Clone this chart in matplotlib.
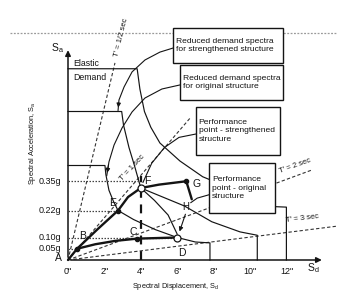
import matplotlib
matplotlib.use("Agg")
import matplotlib.pyplot as plt
from matplotlib.patches import Rectangle

plt.rcParams['font.family'] = ['Liberation Sans Narrow', 'Liberation Sans', 'DejaVu Sans']

# ---- data (spectral displacement in inches, spectral acceleration in g) ----
# demand spectra
elastic_sd = [0, 3.8, 3.95, 4.2, 4.55, 5.05, 6.15, 7.4, 8.9, 10.55, 11.4, 12.0, 12.0]
elastic_sa = [0.85, 0.85, 0.76, 0.66, 0.59, 0.52, 0.44, 0.37, 0.32, 0.26, 0.237, 0.235, 0]

str_dem_sd = [0, 2.95, 3.05, 3.35, 3.65, 4.0, 5.2, 6.4, 7.9, 9.45, 10.4, 10.4]
str_dem_sa = [0.66, 0.66, 0.60, 0.50, 0.42, 0.32, 0.28, 0.24, 0.17, 0.125, 0.11, 0]

org_dem_sd = [0, 2.03, 2.08, 2.25, 2.5, 2.75, 3.6, 4.8, 6.0, 7.0, 7.8, 7.8]
org_dem_sa = [0.42, 0.42, 0.38, 0.31, 0.26, 0.22, 0.18, 0.135, 0.10, 0.08, 0.076, 0]

fd_sd = [4.0, 4.75, 5.5, 6.0]
fd_sa = [0.32, 0.265, 0.20, 0.115]

# capacity curves
shared_sd = [0, 0.5]
shared_sa = [0, 0.05]
str_cap_sd = [0.5, 1.6, 2.75, 3.3, 4.0, 5.0, 6.5, 6.8]
str_cap_sa = [0.05, 0.135, 0.22, 0.28, 0.32, 0.335, 0.35, 0.27]
org_cap_sd = [0.5, 1.5, 2.6, 3.8, 6.0]
org_cap_sa = [0.05, 0.07, 0.085, 0.095, 0.10]

points = {'B': (0.5, 0.05), 'E': (2.75, 0.22), 'C': (3.8, 0.095), 'G': (6.5, 0.35)}
open_points = {'F': (4.0, 0.32), 'D': (6.0, 0.10)}

# reference levels
sa_levels = [0.35, 0.22, 0.10, 0.05]
sa_level_ends = [4.0, 2.75, 6.0, 0.5]
sa_labels = ['0.35g', '0.22g', '0.10g', '0.05g']
sd_ticks = [0, 2, 4, 6, 8, 10, 12]
sd_labels = ['0"', '2"', '4"', '6"', '8"', '10"', '12"']

# constant period lines (end points from origin)
period_ends = [(2.58, 0.876), (6.7, 0.63), (13.4, 0.40), (14.84, 0.151)]
period_labels = ["T' = 1/2 sec", "T' = 1 sec", "T' = 2 sec", "T' = 3 sec"]
period_label_pos = [(2.93, 0.99), (3.55, 0.41), (12.5, 0.42), (12.85, 0.183)]
period_label_rot = [76, 47, 20, 7]

# callout boxes: (sd0, sd1, sa0, sa1)
boxes = [(5.77, 11.81, 0.876, 1.031), (6.15, 11.81, 0.711, 0.867),
         (7.03, 11.65, 0.467, 0.68), (7.75, 11.37, 0.209, 0.431)]
box_texts = ["Reduced demand spectra\nfor strengthened structure",
             "Reduced demand spectra\nfor original structure",
             "Performance\npoint - strengthened\nstructure",
             "Performance\npoint - original\nstructure"]

# leaders
lead1_sd = [5.77, 5.05, 4.23, 3.52, 3.08, 2.80, 2.75]
lead1_sa = [0.942, 0.924, 0.889, 0.836, 0.769, 0.711, 0.665]
lead2_sd = [6.15, 5.16, 4.23, 3.52, 2.97, 2.53, 2.25, 2.13]
lead2_sa = [0.778, 0.76, 0.72, 0.658, 0.587, 0.511, 0.436, 0.375]
lead3_sd = [7.03, 6.1, 5.3, 4.6, 4.12]
lead3_sa = [0.56, 0.545, 0.50, 0.43, 0.345]
lead4_sd = [7.75, 7.1, 6.75]
lead4_sa = [0.29, 0.275, 0.255]

fig = plt.figure(figsize=(3.39, 2.93), dpi=100)
ax = fig.add_axes([0, 0, 1, 1])
ax.set_xlim(-68 / 18.2, (339 - 68) / 18.2)
ax.set_ylim((260 - 293) / 225, 260 / 225)
ax.axis('off')

ink = '#141414'

# scan edge line on top
ax.plot([-3.2, 14.7], [1.009, 1.009], color='#9a9a9a', lw=0.9, ls=(0, (1.5, 1.2)), zorder=1)

# axes with arrows
ax.annotate('', xy=(0, 0.945), xytext=(0, 0),
            arrowprops=dict(arrowstyle='-|>', lw=1.1, color=ink, mutation_scale=8))
ax.annotate('', xy=(14.1, 0), xytext=(0, 0),
            arrowprops=dict(arrowstyle='-|>', lw=1.1, color=ink, mutation_scale=8))

# period lines
for (x1, y1), lab, (lx, ly), rot in zip(period_ends, period_labels, period_label_pos, period_label_rot):
    ax.plot([0, x1], [0, y1], color='#333333', lw=0.8, ls=(0, (3, 2)), zorder=2)
    ax.text(lx, ly, lab, fontsize=5.5, rotation=rot, ha='center', va='center', color=ink, zorder=3)

# demand spectra
for xs, ys in [(elastic_sd, elastic_sa), (str_dem_sd, str_dem_sa),
               (org_dem_sd, org_dem_sa), (fd_sd, fd_sa)]:
    ax.plot(xs, ys, color=ink, lw=0.85, zorder=3)

# reference dotted lines
for lvl, end in zip(sa_levels, sa_level_ends):
    ax.plot([0, end], [lvl, lvl], color='#444444', lw=0.9, ls=(0, (1.2, 1.2)), zorder=3)
ax.plot([4.0, 4.0], [0, 0.375], color=ink, lw=1.6, ls=(0, (4, 3)), zorder=4)

# capacity curves
for xs, ys in [(shared_sd, shared_sa), (str_cap_sd, str_cap_sa), (org_cap_sd, org_cap_sa)]:
    ax.plot(xs, ys, color=ink, lw=1.7, zorder=5, solid_capstyle='round')
for k, (x, y) in points.items():
    ax.plot(x, y, 'o', ms=3, color=ink, zorder=6)
for k, (x, y) in open_points.items():
    ax.plot(x, y, 'o', ms=5, mfc='white', mec=ink, mew=0.9, zorder=6)

# leaders
ax.plot(lead1_sd, lead1_sa, color=ink, lw=0.8, zorder=3)
ax.annotate('', xy=(lead1_sd[-1], lead1_sa[-1]), xytext=(lead1_sd[-2], lead1_sa[-2]),
            arrowprops=dict(arrowstyle='-|>', lw=0.8, color=ink, mutation_scale=6))
ax.plot(lead2_sd, lead2_sa, color=ink, lw=0.8, zorder=3)
ax.annotate('', xy=(lead2_sd[-1], lead2_sa[-1]), xytext=(lead2_sd[-2], lead2_sa[-2]),
            arrowprops=dict(arrowstyle='-|>', lw=0.8, color=ink, mutation_scale=6))
ax.plot(lead3_sd, lead3_sa, color=ink, lw=0.8, zorder=3)
ax.plot(lead4_sd, lead4_sa, color=ink, lw=0.8, zorder=3)
ax.annotate('', xy=(6.08, 0.115), xytext=(6.5, 0.215),
            arrowprops=dict(arrowstyle='-|>', lw=0.8, color=ink, mutation_scale=6))

# callout boxes
for (x0, x1, y0, y1), txt in zip(boxes, box_texts):
    ax.add_patch(Rectangle((x0, y0), x1 - x0, y1 - y0, fc='white', ec=ink, lw=1.0, zorder=7))
    ax.text(x0 + 0.15, (y0 + y1) / 2, txt, fontsize=6.1, ha='left', va='center',
            color=ink, zorder=8, linespacing=1.25)

# point labels
ax.text(-0.55, 0.01, 'A', fontsize=7.5, ha='center', va='center', color=ink)
ax.text(0.8, 0.105, 'B', fontsize=7.5, ha='center', va='center', color=ink)
ax.text(3.6, 0.125, 'C', fontsize=7.5, ha='center', va='center', color=ink)
ax.text(6.25, 0.03, 'D', fontsize=7.5, ha='center', va='center', color=ink)
ax.text(2.45, 0.255, 'E', fontsize=7.5, ha='center', va='center', color=ink)
ax.text(4.2, 0.35, 'F', fontsize=7.5, ha='left', va='center', color=ink)
ax.text(7.05, 0.338, 'G', fontsize=7.5, ha='center', va='center', color=ink)
ax.text(6.45, 0.236, 'H', fontsize=7, ha='center', va='center', color=ink)

# elastic demand label
ax.text(0.3, 0.875, 'Elastic', fontsize=6.3, ha='left', va='center', color=ink)
ax.text(0.3, 0.81, 'Demand', fontsize=6.3, ha='left', va='center', color=ink)

# tick labels
for v, lab in zip(sa_levels, sa_labels):
    ax.text(-0.38, v, lab, fontsize=6.5, ha='right', va='center', color=ink)
for v, lab in zip(sd_ticks, sd_labels):
    ax.text(v, -0.053, lab, fontsize=6.5, ha='center', va='center', color=ink)

# axis names
ax.text(-0.55, 0.94, r'$\mathregular{S_a}$', fontsize=7.5, ha='center', va='center', color=ink)
ax.text(13.45, -0.035, r'$\mathregular{S_d}$', fontsize=7.5, ha='center', va='center', color=ink)
ax.text(-1.95, 0.52, r'Spectral Acceleration, $\mathregular{S_a}$', fontsize=5.3,
        rotation=90, ha='center', va='center', color=ink)
ax.text(5.9, -0.12, r'Spectral Displacement, $\mathregular{S_d}$', fontsize=5.3,
        ha='center', va='center', color=ink)

fig.savefig('out.png', dpi=100, facecolor='white')
